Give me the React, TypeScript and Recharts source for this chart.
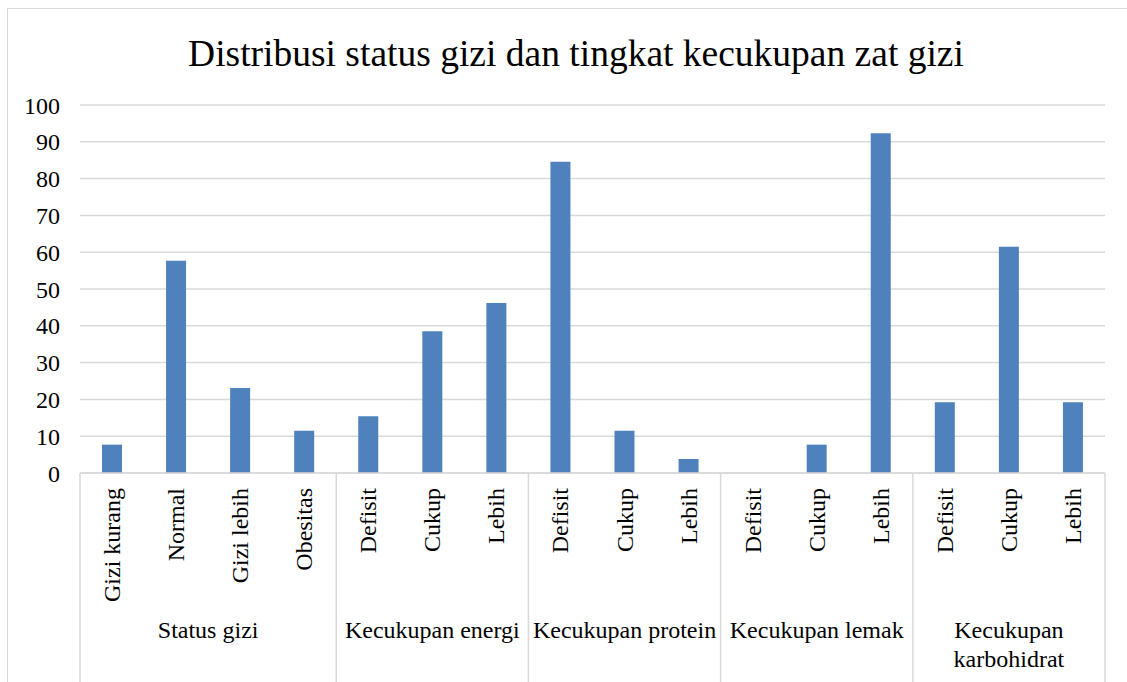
import { BarChart, Bar, XAxis, YAxis, CartesianGrid } from 'recharts'

const CATEGORIES = [
  'Gizi kurang', 'Normal', 'Gizi lebih', 'Obesitas',
  'Defisit', 'Cukup', 'Lebih',
  'Defisit', 'Cukup', 'Lebih',
  'Defisit', 'Cukup', 'Lebih',
  'Defisit', 'Cukup', 'Lebih',
]
const VALUES = [7.7, 57.7, 23.1, 11.5, 15.4, 38.5, 46.2, 84.6, 11.5, 3.8, 0, 7.7, 92.3, 19.2, 61.5, 19.2]
const GROUPS = ['Status gizi', 'Kecukupan energi', 'Kecukupan protein', 'Kecukupan lemak', 'Kecukupan\nkarbohidrat']
const GROUP_SIZES = [4, 3, 3, 3, 3]
const Y_TICKS = [0, 10, 20, 30, 40, 50, 60, 70, 80, 90, 100]

const FONT = '"Liberation Serif", "Times New Roman", serif'
const BAR_COLOR = '#4f81bd'
const LINE_COLOR = '#d9d9d9'

const chartData = CATEGORIES.map((name, i) => ({ name, value: VALUES[i] }))

// index of first category in each group
const groupStarts: number[] = []
GROUP_SIZES.reduce((acc, n) => {
  groupStarts.push(acc)
  return acc + n
}, 0)

interface TickProps {
  x?: number
  y?: number
  payload?: { index: number; offset: number }
}

function CategoryTick({ x = 0, y = 0, payload }: TickProps) {
  if (!payload) return null
  const idx = payload.index
  const half = payload.offset
  const g = groupStarts.indexOf(idx)
  const isLast = idx === CATEGORIES.length - 1
  return (
    <g>
      <text
        x={x}
        y={y + 15}
        transform={`rotate(-90 ${x} ${y + 15})`}
        textAnchor="end"
        dominantBaseline="central"
        fontFamily={FONT}
        fontSize={24}
        fill="#000"
      >
        {CATEGORIES[idx]}
      </text>
      {g >= 0 && (
        <>
          <line x1={x - half} x2={x - half} y1={y} y2={y + 215} stroke={LINE_COLOR} strokeWidth={1.5} />
          {GROUPS[g].split('\n').map((line, li) => (
            <text
              key={li}
              x={x - half + GROUP_SIZES[g] * half}
              y={y + 165 + li * 29}
              textAnchor="middle"
              fontFamily={FONT}
              fontSize={24}
              fill="#000"
            >
              {line}
            </text>
          ))}
        </>
      )}
      {isLast && (
        <line x1={x + half} x2={x + half} y1={y} y2={y + 215} stroke={LINE_COLOR} strokeWidth={1.5} />
      )}
    </g>
  )
}

export default function App() {
  return (
    <div
      style={{
        position: 'fixed',
        left: 0,
        top: 0,
        width: 1127,
        height: 682,
        overflow: 'hidden',
        background: '#fff',
      }}
    >
      <div
        style={{
          position: 'absolute',
          left: 7,
          top: 8,
          width: 1140,
          height: 700,
          border: `1px solid ${LINE_COLOR}`,
        }}
      />
      <div
        style={{
          position: 'absolute',
          left: 0,
          top: 0,
          width: '100%',
          textAlign: 'center',
          fontFamily: FONT,
          fontSize: 37.5,
          lineHeight: '40px',
          paddingTop: 34,
          paddingLeft: 25,
          boxSizing: 'border-box',
        }}
      >
        Distribusi status gizi dan tingkat kecukupan zat gizi
      </div>
      <div style={{ position: 'absolute', left: 0, top: 0 }}>
        <BarChart
          width={1127}
          height={682}
          data={chartData}
          margin={{ top: 105, right: 22, bottom: 0, left: 0 }}
          barSize={20}
        >
          <CartesianGrid vertical={false} stroke={LINE_COLOR} strokeWidth={1.5} />
          <XAxis
            dataKey="name"
            interval={0}
            height={209}
            tickSize={0}
            tickMargin={0}
            axisLine={{ stroke: LINE_COLOR, strokeWidth: 1.5 }}
            tickLine={false}
            tick={<CategoryTick />}
          />
          <YAxis
            width={80}
            domain={[0, 100]}
            ticks={Y_TICKS}
            interval={0}
            axisLine={false}
            tickLine={false}
            tickSize={0}
            tickMargin={20}
            tick={{ fontFamily: FONT, fontSize: 24, fill: '#000' }}
          />
          <Bar dataKey="value" fill={BAR_COLOR} isAnimationActive={false} />
        </BarChart>
      </div>
    </div>
  )
}
